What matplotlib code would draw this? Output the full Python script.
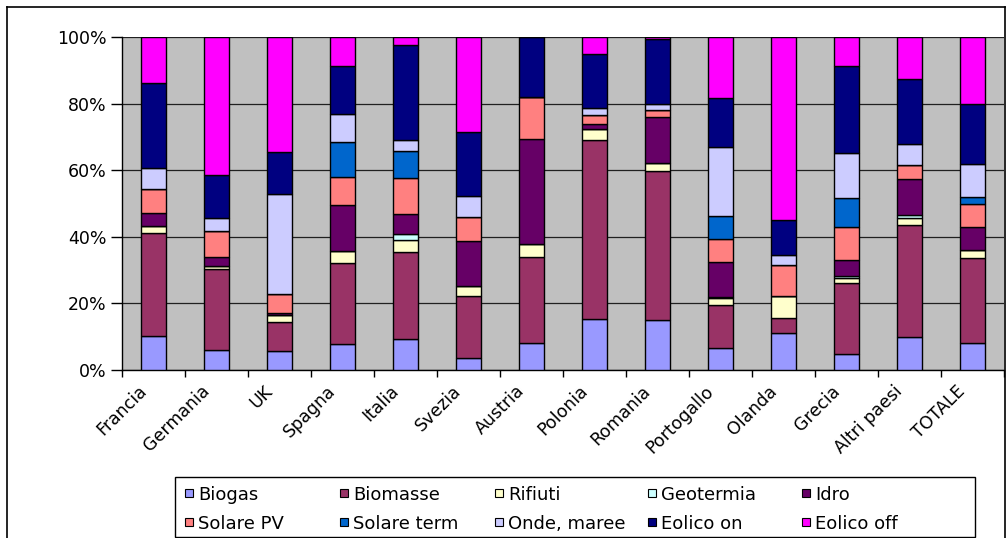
import matplotlib
matplotlib.use("Agg")
import matplotlib.pyplot as plt
import matplotlib.transforms as mtransforms
import numpy as np
from matplotlib.patches import Rectangle
from matplotlib.lines import Line2D

categories = ["Francia", "Germania", "UK", "Spagna", "Italia", "Svezia", "Austria",
              "Polonia", "Romania", "Portogallo", "Olanda", "Grecia", "Altri paesi", "TOTALE"]
series_names = ["Biogas", "Biomasse", "Rifiuti", "Geotermia", "Idro",
                "Solare PV", "Solare term", "Onde, maree", "Eolico on", "Eolico off"]

biogas      = [10.3, 6.0, 5.7, 7.8, 9.4, 3.6, 8.2, 15.3, 14.9, 6.5, 11.0, 4.9, 9.9, 8.2]
biomasse    = [30.8, 24.4, 8.6, 24.3, 25.9, 18.7, 25.8, 53.7, 45.0, 13.0, 4.7, 21.1, 33.6, 25.4]
rifiuti     = [2.0, 0.7, 2.2, 3.7, 3.7, 2.9, 3.8, 3.3, 2.4, 2.0, 6.6, 1.6, 2.1, 2.4]
geotermia   = [0, 0, 0, 0, 1.7, 0, 0, 0, 0, 0.5, 0, 0.5, 1.0, 0]
idro        = [4.0, 2.9, 0.5, 13.6, 6.2, 13.5, 31.6, 1.6, 13.8, 10.4, 0, 4.8, 10.8, 6.8]
solare_pv   = [7.3, 7.6, 5.7, 8.7, 10.8, 7.3, 12.6, 2.6, 2.0, 7.0, 9.3, 9.9, 4.2, 7.2]
solare_term = [0, 0, 0, 10.4, 8.0, 0, 0, 0, 0, 6.7, 0, 8.8, 0, 2.0]
onde_maree  = [6.2, 4.0, 30.1, 8.5, 3.3, 6.3, 0, 2.1, 1.7, 20.9, 2.8, 13.6, 6.2, 9.9]
eolico_on   = [25.6, 13.0, 12.8, 14.2, 28.5, 19.3, 18.0, 16.4, 19.7, 14.6, 10.5, 26.0, 19.7, 18.1]
eolico_off  = [13.8, 41.4, 34.4, 8.8, 2.5, 28.4, 0, 5.0, 0.5, 18.4, 55.1, 8.8, 12.5, 20.0]

series = [biogas, biomasse, rifiuti, geotermia, idro, solare_pv, solare_term,
          onde_maree, eolico_on, eolico_off]
colors = ["#9999FF", "#993366", "#FFFFCC", "#CCFFFF", "#660066",
          "#FF8080", "#0066CC", "#CCCCFF", "#000080", "#FF00FF"]

W, H = 1007, 538
plt.rcParams['font.family'] = ['DejaVu Sans']
fig = plt.figure(figsize=(W / 100, H / 100), dpi=100)


def fx(px):
    return px / W


def fy(py):
    return 1 - py / H


# outer chart frame
for xs, ys in [([7, 7], [538, 7]), ([7, 1005], [7, 7]), ([1005, 1005], [7, 538])]:
    fig.add_artist(Line2D([fx(v) for v in xs], [fy(v) for v in ys], color="black",
                          lw=1.2, transform=fig.transFigure))

left, right, top, bottom = 122, 1004, 37, 370
ax = fig.add_axes([fx(left), fy(bottom), (right - left) / W, (bottom - top) / H])
ax.set_facecolor("#C0C0C0")

data = np.array(series, dtype=float)
totals = data.sum(axis=0)
pct = data / totals * 100
x = np.arange(len(categories))
base = np.zeros(len(categories))
for i, name in enumerate(series_names):
    ax.bar(x, pct[i], bottom=base, width=0.41, color=colors[i], edgecolor="black",
           linewidth=1.0, zorder=3)
    base += pct[i]

ax.set_xlim(-0.5, len(categories) - 0.5)
ax.set_ylim(0, 100)
ax.set_yticks(np.arange(0, 101, 20))
ax.set_yticklabels([f"{v}%" for v in range(0, 101, 20)], fontsize=12.5)
ax.yaxis.grid(True, color="#202020", linewidth=0.9, zorder=1)
ax.set_axisbelow(True)

ax.set_xticks(np.arange(-0.5, len(categories), 1.0))
ax.set_xticklabels([])
ax.set_xticks(x, minor=True)
ax.set_xticklabels(categories, minor=True, rotation=45, ha="right", va="top",
                   rotation_mode="anchor", fontsize=12.5)
ax.tick_params(axis="x", which="minor", length=0, pad=5)
ax.tick_params(axis="x", which="major", length=5, width=1, direction="out")
ax.tick_params(axis="y", length=8, width=1, direction="out", pad=3)

offset = mtransforms.ScaledTranslation(-16 / 100, -5 / 100, fig.dpi_scale_trans)
for lbl in ax.get_xticklabels(minor=True):
    lbl.set_transform(lbl.get_transform() + offset)

for s in ["top", "right"]:
    ax.spines[s].set_visible(False)
for s in ["left", "bottom"]:
    ax.spines[s].set_linewidth(1.0)
    ax.spines[s].set_color("black")

# legend (row-wise, 5 columns)
lx0, ly0, lx1, ly1 = 175, 477, 975, 537
fig.add_artist(Rectangle((fx(lx0), fy(ly1)), (lx1 - lx0) / W, (ly1 - ly0) / H,
                         facecolor="white", edgecolor="black", lw=1.0,
                         transform=fig.transFigure))
col_x = [185, 340, 495, 648, 802]
row_y = [493, 522]
msz = 8
for i, name in enumerate(series_names):
    r, c = divmod(i, 5)
    mx, my = col_x[c], row_y[r]
    fig.add_artist(Rectangle((fx(mx), fy(my + msz / 2)), msz / W, msz / H,
                             facecolor=colors[i], edgecolor="black", lw=0.8,
                             transform=fig.transFigure))
    fig.text(fx(mx + msz + 5), fy(my), name, fontsize=13, ha="left", va="center_baseline")

fig.savefig("out.png", dpi=100)
